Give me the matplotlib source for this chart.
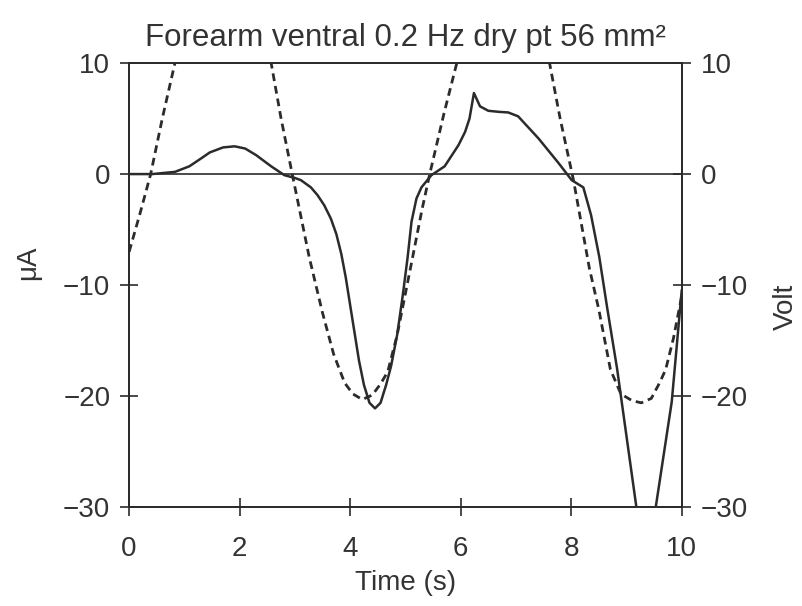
import numpy as np
import matplotlib
matplotlib.use("Agg")
import matplotlib.pyplot as plt

plt.rcParams.update({"font.family": ["Liberation Sans", "DejaVu Sans"], "font.size": 20})
INK = "#2b2b2b"

# measured current (uA), solid line
t_cur = [0, 0.42, 0.83, 1.09, 1.3, 1.46, 1.7, 1.91, 2.1, 2.3, 2.57, 2.81, 3.0, 3.11,
         3.29, 3.41, 3.53, 3.65, 3.75, 3.84, 3.92, 4.0, 4.08, 4.16, 4.25, 4.35, 4.45,
         4.55, 4.65, 4.74, 4.85, 4.95, 5.04, 5.11, 5.2, 5.29, 5.47, 5.71, 5.96, 6.08,
         6.16, 6.24, 6.35, 6.5, 6.7, 6.86, 7.04, 7.41, 7.77, 8.01, 8.22, 8.36, 8.51,
         8.65, 8.83, 9.18, 9.35, 9.53, 9.82, 10.0]
cur = [0, 0, 0.2, 0.7, 1.4, 1.95, 2.4, 2.5, 2.3, 1.7, 0.7, -0.1, -0.35, -0.55,
       -1.2, -1.9, -2.8, -4.0, -5.4, -7.2, -9.3, -11.8, -14.3, -16.8, -19, -20.6, -21.1,
       -20.6, -19.0, -17.3, -14.5, -11, -7.5, -4.3, -2.2, -1.2, -0.1, 0.7, 2.6, 3.8,
       5.0, 7.3, 6.1, 5.7, 5.6, 5.55, 5.2, 3.2, 1.0, -0.55, -1.2, -3.7, -7.5,
       -12, -17.5, -30, -36, -30, -20.5, -10.5]

# applied voltage (Volt), dashed line
t_volt = [0, 0.2, 0.39, 0.6, 0.82, 1.0, 1.25, 1.5, 1.7, 1.95, 2.2, 2.4, 2.57, 2.75,
          2.96, 3.26, 3.5, 3.7, 3.9, 4.05, 4.22, 4.4, 4.55, 4.68, 4.85, 4.98, 5.13,
          5.3, 5.44, 5.7, 5.93, 6.1, 6.35, 6.6, 6.8, 7.05, 7.3, 7.45, 7.62, 7.8, 8.04,
          8.33, 8.5, 8.71, 8.9, 9.1, 9.27, 9.45, 9.6, 9.71, 9.85, 10.0]
volt = [-7, -3.5, 0, 5, 9.8, 13.5, 17.5, 19.6, 20.2, 19.5, 17, 13.5, 10, 5,
        -0.2, -7.5, -12.5, -16.2, -18.8, -19.8, -20.3, -19.9, -18.9, -17.8, -14.5, -11.25, -7.5,
        -3.2, 0, 5.5, 10, 13.5, 17.5, 19.8, 20.3, 19.5, 16.5, 13.8, 9.7, 5, -0.5,
        -8.5, -12.2, -17.6, -19.8, -20.4, -20.6, -20.2, -18.8, -17.6, -14.8, -11]

x_ticks = [0, 2, 4, 6, 8, 10]
y_ticks = [-30, -20, -10, 0, 10]

fig = plt.figure(figsize=(8.02, 6.06), dpi=100)
ax = fig.add_axes([0.161, 0.163, 0.689, 0.733])
ax2 = ax.twinx()

ax.plot(t_cur, cur, color=INK, lw=1.8, solid_joinstyle="round")
ax.axhline(0, color=INK, lw=1.2)
ax2.plot(t_volt, volt, color=INK, lw=2.0, dashes=(2.8, 1.8))

for a in (ax, ax2):
    a.set_xlim(0, 10); a.set_ylim(-30, 10)
    a.set_yticks(y_ticks)
    a.set_yticklabels([f"{v:d}".replace("-", "\u2212") for v in y_ticks])
    for s in a.spines.values():
        s.set_linewidth(1.3); s.set_color(INK)
    a.tick_params(direction="inout", length=13, width=1.2, color=INK, labelcolor="#333333", pad=7)
ax.set_xticks(x_ticks)
ax.set_xticklabels([str(v) for v in x_ticks])
ax.tick_params(axis="x", pad=14)

ax.set_xlabel("Time (s)", color="#333333", labelpad=6)
ax.set_ylabel("\u03bcA", color="#333333")
ax.yaxis.set_label_coords(-0.16, 0.55)
ax2.set_ylabel("Volt", color="#333333", rotation=90)
ax2.yaxis.set_label_coords(1.165, 0.45)
ax.set_title("Forearm ventral 0.2 Hz dry pt 56 mm\u00b2", color="#333333", fontsize=22.5, pad=12)

fig.savefig("out.png")
